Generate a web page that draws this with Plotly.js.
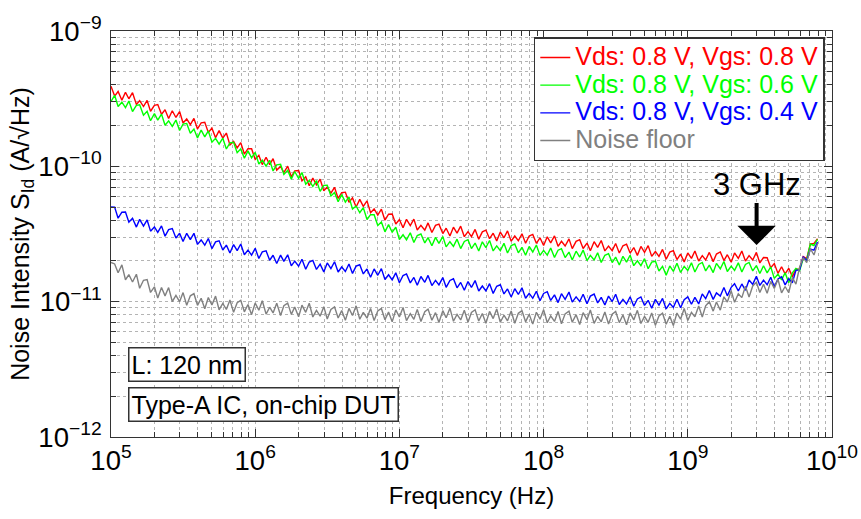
<!DOCTYPE html>
<html>
<head>
<meta charset="utf-8">
<script src="https://cdn.plot.ly/plotly-3.0.1.min.js"></script>
<style>html,body{margin:0;padding:0;background:#fff;}</style>
</head>
<body>
<div id="chart" style="width:861px;height:519px;"></div>
<script>
// Frequency grid (Hz)
const freq = [
 1e5,1.06e5,1.12e5,1.19e5,1.26e5,1.33e5,1.41e5,1.5e5,1.58e5,1.68e5,1.78e5,1.88e5,2e5,2.11e5,2.24e5,2.37e5,2.51e5,2.66e5,2.82e5,2.99e5,
 3.16e5,3.35e5,3.55e5,3.76e5,3.98e5,4.22e5,4.47e5,4.73e5,5.01e5,5.31e5,5.62e5,5.96e5,6.31e5,6.68e5,7.08e5,7.5e5,7.94e5,8.41e5,8.91e5,9.44e5,
 1e6,1.06e6,1.12e6,1.19e6,1.26e6,1.33e6,1.41e6,1.5e6,1.58e6,1.68e6,1.78e6,1.88e6,2e6,2.11e6,2.24e6,2.37e6,2.51e6,2.66e6,2.82e6,2.99e6,
 3.16e6,3.35e6,3.55e6,3.76e6,3.98e6,4.22e6,4.47e6,4.73e6,5.01e6,5.31e6,5.62e6,5.96e6,6.31e6,6.68e6,7.08e6,7.5e6,7.94e6,8.41e6,8.91e6,9.44e6,
 1e7,1.06e7,1.12e7,1.19e7,1.26e7,1.33e7,1.41e7,1.5e7,1.58e7,1.68e7,1.78e7,1.88e7,2e7,2.11e7,2.24e7,2.37e7,2.51e7,2.66e7,2.82e7,2.99e7,
 3.16e7,3.35e7,3.55e7,3.76e7,3.98e7,4.22e7,4.47e7,4.73e7,5.01e7,5.31e7,5.62e7,5.96e7,6.31e7,6.68e7,7.08e7,7.5e7,7.94e7,8.41e7,8.91e7,9.44e7,
 1e8,1.06e8,1.12e8,1.19e8,1.26e8,1.33e8,1.41e8,1.5e8,1.58e8,1.68e8,1.78e8,1.88e8,2e8,2.11e8,2.24e8,2.37e8,2.51e8,2.66e8,2.82e8,2.99e8,
 3.16e8,3.35e8,3.55e8,3.76e8,3.98e8,4.22e8,4.47e8,4.73e8,5.01e8,5.31e8,5.62e8,5.96e8,6.31e8,6.68e8,7.08e8,7.5e8,7.94e8,8.41e8,8.91e8,9.44e8,
 1e9,1.06e9,1.12e9,1.19e9,1.26e9,1.33e9,1.41e9,1.5e9,1.58e9,1.68e9,1.78e9,1.88e9,2e9,2.11e9,2.24e9,2.37e9,2.51e9,2.66e9,2.82e9,2.99e9,
 3.16e9,3.35e9,3.55e9,3.76e9,3.98e9,4.22e9,4.47e9,4.73e9,5.01e9,5.31e9,5.62e9,5.96e9,6.31e9,6.68e9,7.08e9,7.5e9,7.94e9
];
// Noise intensity, stored as log10 of the value in units of 1e-11 A/sqrt(Hz)
const UNIT = 1e-11;
const logVgs08 = [
 1.591,1.519,1.553,1.489,1.547,1.499,1.544,1.458,1.485,1.442,1.487,1.407,1.451,
 1.457,1.384,1.418,1.353,1.411,1.361,1.405,1.320,1.350,1.308,1.354,1.276,1.321,
 1.325,1.251,1.282,1.212,1.264,1.208,1.246,1.158,1.184,1.136,1.175,1.091,1.131,
 1.130,1.051,1.081,1.013,1.067,1.013,1.057,0.972,0.999,0.954,1.001,0.923,0.967,
 0.969,0.893,0.923,0.857,0.914,0.863,0.905,0.819,0.847,0.802,0.845,0.763,0.805,
 0.809,0.735,0.767,0.700,0.756,0.704,0.745,0.658,0.685,0.639,0.683,0.602,0.646,
 0.648,0.574,0.606,0.546,0.608,0.562,0.610,0.530,0.564,0.529,0.582,0.511,0.564,
 0.573,0.503,0.543,0.485,0.550,0.507,0.558,0.480,0.517,0.481,0.534,0.462,0.516,
 0.529,0.465,0.506,0.449,0.514,0.472,0.523,0.447,0.485,0.450,0.502,0.432,0.485,
 0.497,0.431,0.472,0.415,0.479,0.435,0.486,0.409,0.446,0.411,0.464,0.392,0.446,
 0.458,0.393,0.433,0.377,0.443,0.401,0.452,0.375,0.411,0.377,0.430,0.360,0.413,
 0.425,0.359,0.400,0.342,0.408,0.365,0.414,0.335,0.371,0.334,0.386,0.314,0.366,
 0.377,0.311,0.351,0.294,0.360,0.320,0.374,0.300,0.340,0.308,0.364,0.296,0.352,
 0.367,0.304,0.347,0.292,0.360,0.320,0.374,0.300,0.340,0.308,0.364,0.286,0.326,
 0.325,0.251,0.282,0.209,0.258,0.205,0.246,0.185,0.238,0.242,0.333,0.318,0.427,
 0.430,0.465
];
const logVgs06 = [
 1.479,1.525,1.442,1.474,1.434,1.482,1.405,1.451,1.455,1.378,1.406,1.337,1.390,
 1.341,1.386,1.304,1.336,1.295,1.342,1.265,1.312,1.317,1.244,1.276,1.210,1.268,
 1.218,1.262,1.178,1.207,1.164,1.208,1.128,1.174,1.178,1.101,1.129,1.060,1.114,
 1.062,1.103,1.017,1.045,1.001,1.045,0.966,1.011,1.015,0.940,0.971,0.904,0.962,
 0.912,0.954,0.868,0.896,0.851,0.895,0.815,0.859,0.861,0.781,0.807,0.738,0.791,
 0.736,0.774,0.684,0.707,0.657,0.695,0.607,0.643,0.642,0.563,0.589,0.516,0.569,
 0.513,0.550,0.459,0.494,0.457,0.509,0.437,0.489,0.500,0.434,0.473,0.413,0.475,
 0.431,0.481,0.405,0.443,0.409,0.462,0.392,0.445,0.458,0.392,0.433,0.375,0.442,
 0.400,0.452,0.375,0.412,0.377,0.431,0.360,0.414,0.426,0.361,0.401,0.343,0.408,
 0.367,0.419,0.342,0.379,0.344,0.397,0.327,0.380,0.392,0.326,0.366,0.308,0.373,
 0.330,0.381,0.304,0.342,0.308,0.361,0.290,0.343,0.355,0.289,0.329,0.271,0.335,
 0.292,0.343,0.266,0.302,0.266,0.318,0.243,0.292,0.299,0.227,0.261,0.196,0.264,
 0.224,0.284,0.216,0.260,0.231,0.287,0.219,0.275,0.290,0.227,0.270,0.215,0.283,
 0.243,0.297,0.223,0.263,0.231,0.287,0.219,0.275,0.290,0.227,0.267,0.208,0.265,
 0.213,0.257,0.172,0.203,0.161,0.213,0.140,0.213,0.245,0.228,0.316,0.310,0.426,
 0.415,0.460
];
const logVgs04 = [
 0.700,0.699,0.617,0.661,0.663,0.587,0.617,0.551,0.608,0.559,0.604,0.521,0.552,
 0.512,0.560,0.484,0.532,0.540,0.470,0.506,0.444,0.505,0.458,0.505,0.423,0.456,
 0.417,0.467,0.392,0.442,0.450,0.381,0.418,0.359,0.422,0.377,0.426,0.347,0.381,
 0.344,0.394,0.319,0.368,0.376,0.306,0.343,0.282,0.344,0.298,0.346,0.265,0.300,
 0.262,0.313,0.240,0.293,0.305,0.238,0.277,0.220,0.286,0.244,0.295,0.219,0.256,
 0.223,0.278,0.209,0.263,0.273,0.205,0.242,0.180,0.242,0.195,0.244,0.164,0.199,
 0.161,0.213,0.140,0.193,0.205,0.139,0.179,0.121,0.186,0.143,0.194,0.119,0.157,
 0.124,0.178,0.106,0.157,0.169,0.102,0.142,0.084,0.149,0.105,0.156,0.079,0.116,
 0.080,0.133,0.061,0.114,0.125,0.057,0.094,0.034,0.096,0.053,0.103,0.025,0.061,
 0.025,0.077,0.007,0.061,0.074,0.009,0.050,-0.007,0.059,0.017,0.071,-0.003,0.035,
 0.001,0.055,-0.015,0.041,0.056,-0.009,0.032,-0.025,0.041,0.001,0.055,-0.021,0.017,
 -0.017,0.036,-0.034,0.020,0.035,-0.028,0.010,-0.049,0.017,-0.025,0.024,-0.054,-0.012,
 -0.042,0.018,-0.045,0.015,0.035,-0.019,0.032,-0.017,0.057,0.023,0.083,0.017,0.065,
 0.041,0.104,0.043,0.106,0.132,0.079,0.131,0.084,0.160,0.128,0.188,0.120,0.159,
 0.125,0.180,0.110,0.168,0.184,0.124,0.170,0.140,0.232,0.235,0.332,0.303,0.388,
 0.381,0.440
];
const logNoiseFloor = [
 0.290,0.279,0.214,0.272,0.162,0.200,0.145,0.203,0.099,0.158,0.163,0.068,0.110,
 0.027,0.104,0.043,0.104,0.001,0.047,0.000,0.067,-0.026,0.043,0.059,-0.027,0.025,
 -0.052,0.031,-0.025,0.041,-0.060,-0.013,-0.058,0.012,-0.079,-0.008,0.010,-0.075,-0.021,
 -0.096,-0.010,-0.063,0.007,-0.092,-0.041,-0.083,-0.011,-0.102,-0.030,-0.011,-0.094,-0.039,
 -0.112,-0.026,-0.079,-0.012,-0.113,-0.064,-0.107,-0.037,-0.128,-0.057,-0.038,-0.121,-0.066,
 -0.138,-0.050,-0.102,-0.031,-0.130,-0.079,-0.122,-0.050,-0.140,-0.068,-0.050,-0.133,-0.077,
 -0.149,-0.061,-0.113,-0.043,-0.140,-0.088,-0.130,-0.057,-0.147,-0.074,-0.055,-0.137,-0.081,
 -0.154,-0.066,-0.119,-0.048,-0.145,-0.094,-0.135,-0.063,-0.152,-0.080,-0.060,-0.143,-0.087,
 -0.160,-0.072,-0.125,-0.054,-0.152,-0.100,-0.142,-0.069,-0.159,-0.086,-0.067,-0.149,-0.093,
 -0.166,-0.078,-0.130,-0.059,-0.156,-0.105,-0.146,-0.073,-0.163,-0.090,-0.070,-0.152,-0.096,
 -0.169,-0.081,-0.133,-0.062,-0.160,-0.108,-0.149,-0.076,-0.165,-0.092,-0.072,-0.155,-0.099,
 -0.171,-0.083,-0.135,-0.064,-0.161,-0.109,-0.153,-0.083,-0.175,-0.105,-0.085,-0.167,-0.108,
 -0.177,-0.084,-0.130,-0.051,-0.139,-0.079,-0.112,-0.032,-0.113,-0.030,0.000,-0.070,-0.002,
 -0.063,0.036,-0.003,0.080,-0.005,0.059,0.030,0.114,0.034,0.116,0.143,0.068,0.129,
 0.062,0.150,0.098,0.166,0.065,0.112,0.066,0.179,0.129,0.254,0.325,0.289,0.391,
 0.345,0.430
];
const seriesNames = ['Vds: 0.8 V, Vgs: 0.8 V','Vds: 0.8 V, Vgs: 0.6 V','Vds: 0.8 V, Vgs: 0.4 V','Noise floor'];
const seriesColors = ['#ff0000','#00ff00','#0000ff','#808080'];
const seriesData = [logVgs08, logVgs06, logVgs04, logNoiseFloor];
const markerFreq = 3e9;
const markerLevel = 2.62e-11;

const FONT = '"Liberation Sans", Arial, Helvetica, sans-serif';

const traces = seriesData.map((vals, i) => ({
  type: 'scatter', mode: 'lines',
  x: freq, y: vals.map(L => Math.pow(10, L) * UNIT),
  name: '<span style="color:' + seriesColors[i] + ';font-size:25px">' + seriesNames[i] + '</span>',
  line: {color: seriesColors[i], width: 1.4},
  hoverinfo: 'skip'
}));

const GRID = '#b4b4b4';
const axisCommon = {
  type: 'log', dtick: 1, exponentformat: 'power',
  showline: true, linecolor: '#333', linewidth: 1, mirror: 'allticks',
  ticks: 'inside', ticklen: 8, tickcolor: '#333', tickwidth: 1,
  showgrid: true, gridcolor: GRID, griddash: 'dot', gridwidth: 1,
  zeroline: false, automargin: false,
  tickfont: {size: 22, family: FONT, color: '#000'},
  minor: {ticks: 'inside', ticklen: 5, tickcolor: '#333', showgrid: true,
          gridcolor: GRID, griddash: 'dot', gridwidth: 1, dtick: 'D1'}
};

const layout = {
  width: 861, height: 519,
  margin: {l: 111, r: 29, t: 31, b: 82},
  paper_bgcolor: '#ffffff', plot_bgcolor: '#ffffff',
  font: {family: FONT, color: '#000'},
  showlegend: true,
  xaxis: Object.assign({}, axisCommon, {
    range: [5, 10],
    title: {text: 'Frequency (Hz)', font: {size: 24, family: FONT, color: '#000'}, standoff: 12}
  }),
  yaxis: Object.assign({}, axisCommon, {
    range: [-12, -9],
    ticklabelstandoff: 4,
    title: {text: 'Noise Intensity S<sub>Id</sub> (A/√Hz)', font: {size: 25, family: FONT, color: '#000'}, standoff: 0}
  }),
  legend: {
    x: 0.99, y: 0.985, xanchor: 'right', yanchor: 'top',
    bgcolor: '#ffffff', bordercolor: '#333', borderwidth: 1.5,
    font: {size: 19, family: FONT}, tracegroupgap: 0
  },
  annotations: [
    {x: Math.log10(markerFreq), y: Math.log10(markerLevel), xref: 'x', yref: 'y',
     text: '3 GHz', showarrow: true, ax: 0, ay: -61,
     arrowhead: 1, arrowsize: 1.6, arrowwidth: 4, arrowcolor: '#000',
     font: {size: 31, family: FONT, color: '#000'}},
    {xref: 'paper', yref: 'paper', x: 0.0236, y: 0.1786, xanchor: 'left', yanchor: 'middle',
     text: 'L: 120 nm', showarrow: false, font: {size: 25, family: FONT, color: '#000'},
     bordercolor: '#333', borderwidth: 1.5, borderpad: 2, bgcolor: '#ffffff'},
    {xref: 'paper', yref: 'paper', x: 0.0236, y: 0.079, xanchor: 'left', yanchor: 'middle',
     text: 'Type-A IC, on-chip DUT', showarrow: false, font: {size: 25, family: FONT, color: '#000'},
     bordercolor: '#333', borderwidth: 1.5, borderpad: 2, bgcolor: '#ffffff'}
  ]
};

Plotly.newPlot('chart', traces, layout, {staticPlot: true, displayModeBar: false});
</script>
</body>
</html>
